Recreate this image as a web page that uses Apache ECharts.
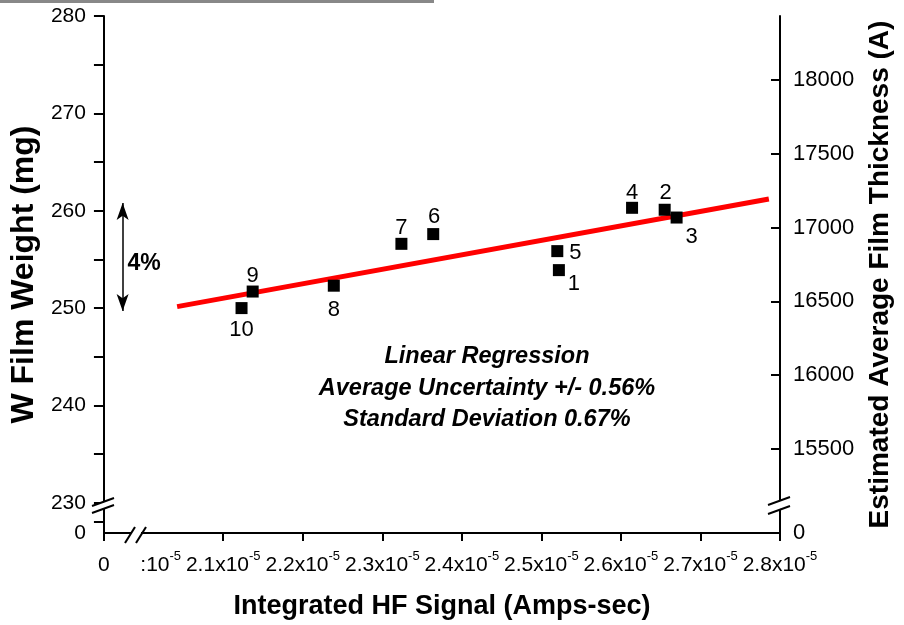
<!DOCTYPE html>
<html><head><meta charset="utf-8">
<script src="https://cdn.jsdelivr.net/npm/echarts@6/dist/echarts.min.js"></script>
<style>html,body{margin:0;padding:0;background:#fff}#c{width:904px;height:625px}</style>
</head><body><div id="c"></div>
<script>
// ---- data ----
const pointNames = ['1', '2', '3', '4', '5', '6', '7', '8', '9', '10'];
const hfSignal_e5 = [2.522, 2.655, 2.670, 2.614, 2.520, 2.364, 2.324, 2.239, 2.137, 2.123]; // x10^-5 Amps-sec
const filmWeight = [253.9, 260.1, 259.3, 260.3, 255.85, 257.6, 256.6, 252.3, 251.7, 250.0]; // mg
const fitX_e5 = [2.042, 2.786];
const fitY = [250.15, 261.2];
const xTickValues = [2.1, 2.2, 2.3, 2.4, 2.5, 2.6, 2.7, 2.8];
const yLeftLabels = [230, 240, 250, 260, 270, 280];
const yLeftMinorTicks = [235, 245, 255, 265, 275];
const yRightLabels = [15500, 16000, 16500, 17000, 17500, 18000];
const annotationLines = ['Linear Regression', 'Average Uncertainty +/- 0.56%', 'Standard Deviation 0.67%'];
const spreadArrowY = [260.8, 249.7];
const spreadArrowX = 1.9735;
const spreadLabel = '4%';

// ---- styling ----
const FONT = '"Liberation Sans", Arial, sans-serif';
const X_MIN = 1.95, X_MAX = 2.8, Y_MIN = 226.9, Y_MAX = 280, R_MIN = 14931, R_MAX = 18434;
const labelOffsets = {
  '1': [15, 14], '2': [1, -17], '3': [15, 19], '4': [0, -15], '5': [18, 2],
  '6': [1, -17], '7': [0, -16], '8': [0, 24], '9': [0, -16], '10': [0, 22]
};
const near = (a, b) => Math.abs(a - b) < 1e-6;

const chart = echarts.init(document.getElementById('c'), null, {renderer: 'canvas'});
const scatterData = pointNames.map((n, i) => ({
  value: [hfSignal_e5[i], filmWeight[i]],
  name: n,
  label: {offset: labelOffsets[n]}
}));

const axisLineStyle = {color: '#000', width: 2};
const titleStyle = size => ({fontSize: size, fontWeight: 'bold', color: '#000', fontFamily: FONT});
const option = {
  animation: false,
  backgroundColor: '#fff',
  grid: {left: 103, right: 124, top: 16, bottom: 92, containLabel: false},
  xAxis: {
    type: 'value', min: X_MIN, max: X_MAX,
    name: 'Integrated HF Signal (Amps-sec)', nameLocation: 'middle', nameGap: 60,
    nameTextStyle: titleStyle(27),
    axisLine: {show: true, onZero: false, lineStyle: axisLineStyle},
    axisTick: {show: true, inside: false, length: 8, lineStyle: axisLineStyle, customValues: [X_MIN].concat(xTickValues)},
    splitLine: {show: false},
    axisLabel: {
      customValues: [X_MIN, 2.0].concat(xTickValues), margin: 17, color: '#000',
      fontFamily: FONT, fontSize: 21,
      formatter: v => {
        if (near(v, X_MIN)) return '{n|0}';
        if (near(v, 2.0)) return '{pad|}{n|:10}{s|-5}';
        return '{n|' + v.toFixed(1) + 'x10}{s|-5}';
      },
      rich: {
        n: {fontSize: 21, fontFamily: FONT, color: '#000', lineHeight: 30},
        s: {fontSize: 13, fontFamily: FONT, color: '#000', verticalAlign: 'top', lineHeight: 12},
        pad: {width: 34}
      }
    }
  },
  yAxis: [{
    type: 'value', min: Y_MIN, max: Y_MAX, position: 'left',
    name: 'W Film Weight (mg)', nameLocation: 'middle', nameGap: 61,
    nameTextStyle: titleStyle(32),
    axisLine: {show: true, onZero: false, lineStyle: axisLineStyle},
    axisTick: {show: true, inside: false, length: 10, lineStyle: axisLineStyle,
      customValues: [228.05].concat(yLeftLabels, yLeftMinorTicks)},
    splitLine: {show: false},
    axisLabel: {
      customValues: [Y_MIN].concat(yLeftLabels), margin: 18, color: '#000', fontSize: 21, fontFamily: FONT,
      formatter: v => (v < 229 ? '0' : String(v))
    }
  }, {
    type: 'value', min: R_MIN, max: R_MAX, position: 'right',
    name: 'Estimated Average Film Thickness (A)', nameLocation: 'middle', nameGap: 86, nameRotate: 90,
    nameTextStyle: titleStyle(28),
    axisLine: {show: true, onZero: false, lineStyle: axisLineStyle},
    axisTick: {show: true, inside: true, length: 9, lineStyle: axisLineStyle, customValues: yRightLabels},
    splitLine: {show: false},
    axisLabel: {
      customValues: [R_MIN].concat(yRightLabels), margin: 13, color: '#000', fontSize: 22, fontFamily: FONT,
      formatter: v => (v < 15000 ? '0' : String(v))
    }
  }],
  series: [{
    type: 'line', name: 'fit', yAxisIndex: 0, silent: true,
    data: fitX_e5.map((x, i) => [x, fitY[i]]),
    symbol: 'none', lineStyle: {color: '#ff0000', width: 5}, z: 2
  }, {
    type: 'scatter', name: 'points', yAxisIndex: 0, z: 3,
    data: scatterData,
    symbol: 'rect', symbolSize: 12,
    itemStyle: {color: '#000', opacity: 1},
    label: {show: true, position: 'inside', formatter: p => p.name, color: '#000', fontSize: 22, fontFamily: FONT},
    markLine: {
      silent: true, animation: false,
      symbol: ['arrow', 'arrow'], symbolSize: [9, 17],
      lineStyle: {color: '#000', width: 1.5, type: 'solid'},
      label: {show: false},
      data: [[{coord: [spreadArrowX, spreadArrowY[0]]}, {coord: [spreadArrowX, spreadArrowY[1]]}]]
    }
  }],
  graphic: [
    {type: 'rect', z: 100, shape: {x: 0, y: 0, width: 434, height: 3}, style: {fill: '#888888'}},
    // left axis break
    {type: 'polygon', z: 100, shape: {points: [[96, 505], [112, 499], [112, 506], [96, 512]]}, style: {fill: '#fff'}},
    {type: 'line', z: 101, shape: {x1: 92, y1: 506, x2: 114, y2: 498}, style: {stroke: '#000', lineWidth: 2}},
    {type: 'line', z: 101, shape: {x1: 92, y1: 513, x2: 114, y2: 505}, style: {stroke: '#000', lineWidth: 2}},
    // right axis break
    {type: 'polygon', z: 100, shape: {points: [[772, 504], [788, 498], [788, 506], [772, 512]]}, style: {fill: '#fff'}},
    {type: 'line', z: 101, shape: {x1: 768, y1: 505, x2: 790, y2: 497}, style: {stroke: '#000', lineWidth: 2}},
    {type: 'line', z: 101, shape: {x1: 768, y1: 514, x2: 790, y2: 506}, style: {stroke: '#000', lineWidth: 2}},
    // x axis break
    {type: 'rect', z: 100, shape: {x: 131, y: 530, width: 10, height: 6}, style: {fill: '#fff'}},
    {type: 'line', z: 101, shape: {x1: 125, y1: 543, x2: 135, y2: 527}, style: {stroke: '#000', lineWidth: 2}},
    {type: 'line', z: 101, shape: {x1: 136, y1: 543, x2: 146, y2: 527}, style: {stroke: '#000', lineWidth: 2}},
    // "4%" label
    {type: 'text', z: 101, x: 144, y: 264, style: {text: spreadLabel, font: 'bold 23px ' + FONT, fill: '#000', textAlign: 'center', textVerticalAlign: 'middle'}},
    // regression annotation
    ...annotationLines.map((t, i) => ({
      type: 'text', z: 101, x: 487, y: 357 + i * 31.5,
      style: {text: t, font: 'italic bold 23.5px ' + FONT, fill: '#000', textAlign: 'center', textVerticalAlign: 'middle'}
    }))
  ]
};
chart.setOption(option);
</script>
</body></html>
